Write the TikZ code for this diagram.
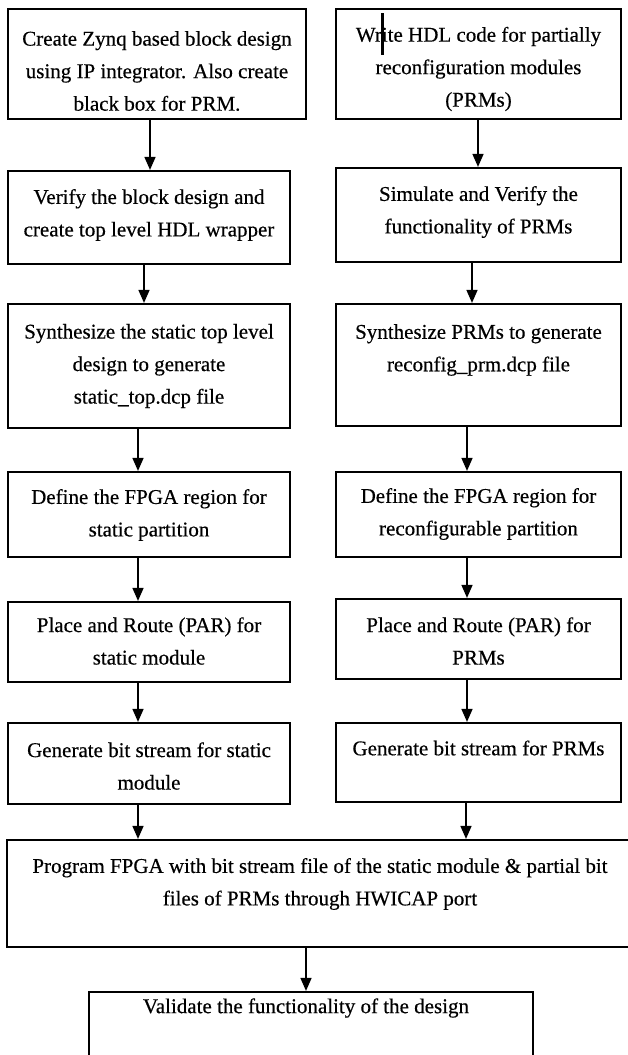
\documentclass[tikz,border=0pt]{standalone}
\usepackage{fontspec}
\setmainfont[FakeBold=0.4]{Liberation Serif}
\usetikzlibrary{arrows.meta}

\tikzset{
  stepbox/.style={draw=black, line width=2.2pt, rectangle, inner sep=0pt},
  steptext/.style={align=center, inner sep=0pt, text=black,
    font=\fontsize{21pt}{32.5pt}\selectfont},
  flow/.style={draw=black, line width=1.5pt,
    -{Triangle[width=11pt,length=13pt]}}
}

\begin{document}
\begin{tikzpicture}[x=1pt, y=-1pt]
  \useasboundingbox (0,0) rectangle (628,1055);
  \fill[white] (0,0) rectangle (628,1055);

  % static (left) flow
  \node[stepbox, minimum width=298pt, minimum height=110pt] (L1) at (157,64) {};
  \node[stepbox, minimum width=282pt, minimum height=93pt]  (L2) at (149,217.5) {};
  \node[stepbox, minimum width=282pt, minimum height=124pt] (L3) at (149,366) {};
  \node[stepbox, minimum width=282pt, minimum height=85pt]  (L4) at (149,514.5) {};
  \node[stepbox, minimum width=282pt, minimum height=80pt]  (L5) at (149,642) {};
  \node[stepbox, minimum width=282pt, minimum height=81pt]  (L6) at (149,763.5) {};

  % reconfigurable (right) flow
  \node[stepbox, minimum width=285pt, minimum height=110pt] (R1) at (478.5,64) {};
  \node[stepbox, minimum width=285pt, minimum height=94pt]  (R2) at (478.5,215) {};
  \node[stepbox, minimum width=285pt, minimum height=122pt] (R3) at (478.5,365) {};
  \node[stepbox, minimum width=285pt, minimum height=85pt]  (R4) at (478.5,514.5) {};
  \node[stepbox, minimum width=285pt, minimum height=80pt]  (R5) at (478.5,639) {};
  \node[stepbox, minimum width=285pt, minimum height=79pt]  (R6) at (478.5,762.5) {};

  % joint steps
  \node[stepbox, minimum width=629pt, minimum height=107pt] (PG) at (321.5,893.5) {};
  \node[stepbox, minimum width=444pt, minimum height=78pt]  (VA) at (311,1031) {};

  % step texts
  \node[steptext] (L1t) at (157,71)  {Create Zynq based block design\\using IP integrator. Also create\\black box for PRM.};
  \node[steptext] (L2t) at (149,215) {Verify the block design and\\create top level HDL wrapper};
  \node[steptext] (L3t) at (149,366) {Synthesize the static top level\\design to generate\\static\_top.dcp file};
  \node[steptext] (L4t) at (149,515) {Define the FPGA region for\\static partition};
  \node[steptext] (L5t) at (149,641) {Place and Route (PAR) for\\static module};
  \node[steptext] (L6t) at (149,766) {Generate bit stream for static\\module};

  \node[steptext] (R1t) at (478.5,69)  {Write HDL code for partially\\reconfiguration modules\\(PRMs)};
  \node[steptext] (R2t) at (478.5,212) {Simulate and Verify the\\functionality of PRMs};
  \node[steptext] (R3t) at (478.5,350) {Synthesize PRMs to generate\\reconfig\_prm.dcp file};
  \node[steptext] (R4t) at (478.5,514) {Define the FPGA region for\\reconfigurable partition};
  \node[steptext] (R5t) at (478.5,641) {Place and Route (PAR) for\\PRMs};
  \node[steptext] (R6t) at (478.5,748) {Generate bit stream for PRMs};

  \node[steptext] (PGt) at (320,884)  {Program FPGA with bit stream file of the static module \& partial bit\\files of PRMs through HWICAP port};
  \node[steptext] (VAt) at (306,1008) {Validate the functionality of the design};

  % text cursor bar in the first right-hand step
  \fill[black] (380.5,13) rectangle (384,55);

  % arrow columns
  \coordinate (xa) at (150,0);
  \coordinate (xb) at (144,0);
  \coordinate (xc) at (138,0);
  \coordinate (ya) at (478,0);
  \coordinate (yb) at (472,0);
  \coordinate (yc) at (467,0);
  \coordinate (yd) at (466,0);
  \coordinate (za) at (306,0);

  \draw[flow] (L1.south -| xa) -- (L2.north -| xa);
  \draw[flow] (L2.south -| xb) -- (L3.north -| xb);
  \draw[flow] (L3.south -| xc) -- (L4.north -| xc);
  \draw[flow] (L4.south -| xc) -- (L5.north -| xc);
  \draw[flow] (L5.south -| xc) -- (L6.north -| xc);
  \draw[flow] (L6.south -| xc) -- (PG.north -| xc);

  \draw[flow] (R1.south -| ya) -- (R2.north -| ya);
  \draw[flow] (R2.south -| yb) -- (R3.north -| yb);
  \draw[flow] (R3.south -| yc) -- (R4.north -| yc);
  \draw[flow] (R4.south -| yc) -- (R5.north -| yc);
  \draw[flow] (R5.south -| yc) -- (R6.north -| yc);
  \draw[flow] (R6.south -| yd) -- (PG.north -| yd);

  \draw[flow] (PG.south -| za) -- (VA.north -| za);
\end{tikzpicture}
\end{document}
